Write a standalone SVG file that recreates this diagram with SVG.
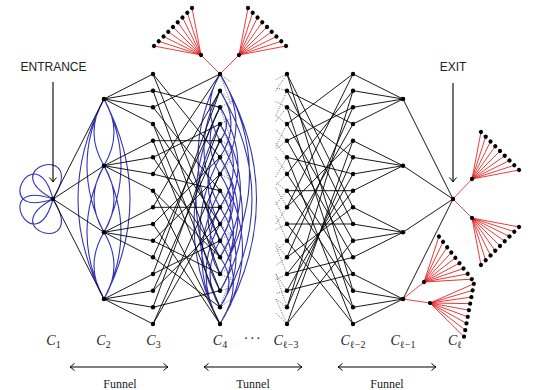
<svg xmlns="http://www.w3.org/2000/svg" xmlns:xlink="http://www.w3.org/1999/xlink" width="540" height="390" viewBox="0 0 540 390">
<defs>
<marker id="barb" viewBox="-6 -6 12 12" refX="0" refY="0" markerWidth="12" markerHeight="12" markerUnits="userSpaceOnUse" orient="auto-start-reverse">
<path d="M-4.5,-3.6 Q-1.5,-0.8 0,0 Q-1.5,0.8 -4.5,3.6" fill="none" stroke="#000" stroke-width="1"/>
</marker>
<path id="petal" d="M0,0 C46.7,-50 46.7,50 0,0"/>
<path id="fan" d="M0,0L39.6,-26.9M0,0L39.6,-20.2M0,0L39.6,-13.4M0,0L39.6,-6.7M0,0L39.6,0M0,0L39.6,6.7M0,0L39.6,13.4M0,0L39.6,20.2M0,0L39.6,26.9"/>
<g id="leaves">
<circle cx="0" cy="0" r="2.1"/><circle cx="39.6" cy="-26.9" r="2.1"/><circle cx="39.6" cy="-20.2" r="2.1"/><circle cx="39.6" cy="-13.4" r="2.1"/><circle cx="39.6" cy="-6.7" r="2.1"/><circle cx="39.6" cy="0" r="2.1"/><circle cx="39.6" cy="6.7" r="2.1"/><circle cx="39.6" cy="13.4" r="2.1"/><circle cx="39.6" cy="20.2" r="2.1"/><circle cx="39.6" cy="26.9" r="2.1"/>
</g>
</defs>
<style>
.e{stroke:#000;stroke-width:0.9;fill:none}
.b{stroke:#3434b4;stroke-width:1.1;fill:none}
.d{stroke:#444;stroke-width:0.8;stroke-dasharray:1 1.4;fill:none}
.r{stroke:#e31b1b;stroke-width:0.8;fill:none}
.n circle,.n use{fill:#000}
.lab{font-family:"Liberation Serif","DejaVu Serif",serif;font-size:14px;font-style:italic;text-anchor:middle;fill:#222}
.sub{font-size:10px;font-style:normal}
.t{font-family:"Liberation Serif","DejaVu Serif",serif;font-size:12px;text-anchor:middle;fill:#222}
.s{font-family:"Liberation Sans",sans-serif;font-size:12px;text-anchor:middle;fill:#222}
.ar{stroke:#000;stroke-width:1.1;fill:none}
</style>
<rect width="540" height="390" fill="#fff"/>

<g id="connectors">
<g class="b">
<use xlink:href="#petal" transform="translate(53,199) rotate(-105)"/>
<use xlink:href="#petal" transform="translate(53,199) rotate(-152)"/>
<use xlink:href="#petal" transform="translate(53,199) rotate(152)"/>
<use xlink:href="#petal" transform="translate(53,199) rotate(105)"/>
</g>
<path class="b" d="M104,99Q124,132.3 104,165.7M104,99Q84,132.3 104,165.7M104,165.7Q124,199 104,232.3M104,165.7Q84,199 104,232.3M104,232.3Q124,265.7 104,299M104,232.3Q84,265.7 104,299M104,99Q138,165.7 104,232.3M104,99Q70,165.7 104,232.3M104,165.7Q138,232.3 104,299M104,165.7Q70,232.3 104,299M104,99Q156,199 104,299M104,99Q52,199 104,299"/>
<path class="b" d="M220,74Q293,199 220,324M220,74Q279,174 220,274M220,90.7Q284,199 220,307.3M220,107.3Q256,165.7 220,224M220,124Q261,190.7 220,257.3M220,140.7Q265,215.7 220,290.7M220,157.3Q247,199 220,240.7M220,174Q265,249 220,324M220,190.7Q247,232.3 220,274M220,207.3Q252,257.3 220,307.3M220,74Q252,124 220,174M220,90.7Q242,124 220,157.3M220,124Q247,165.7 220,207.3M220,224Q242,257.3 220,290.7M220,240.7Q247,282.3 220,324M220,257.3Q238,282.3 220,307.3M220,107.3Q233,124 220,140.7M220,174Q242,207.3 220,240.7M220,157.3Q256,215.7 220,274"/>
<path class="b" d="M220,74Q176,157.3 220,240.7M220,90.7Q188,149 220,207.3M220,107.3Q172,199 220,290.7M220,124Q168,224 220,324M220,140.7Q196,182.3 220,224M220,157.3Q180,232.3 220,307.3M220,174Q196,215.7 220,257.3M220,190.7Q184,257.3 220,324M220,207.3Q200,240.7 220,274M220,74Q200,107.3 220,140.7M220,224Q192,274 220,324M220,107.3Q200,140.7 220,174M220,240.7Q200,274 220,307.3"/>
<path class="e" d="M53,199L104,99M53,199L104,165.7M53,199L104,232.3M53,199L104,299"/>
<path class="e" d="M104,99L153,74M104,99L153,90.7M104,99L153,107.3M104,99L153,124M104,165.7L153,140.7M104,165.7L153,157.3M104,165.7L153,174M104,165.7L153,190.7M104,232.3L153,207.3M104,232.3L153,224M104,232.3L153,240.7M104,232.3L153,257.3M104,299L153,274M104,299L153,290.7M104,299L153,307.3M104,299L153,324"/>
<path class="e" d="M153,74L220,157.3M153,74L220,240.7M153,90.7L220,274M153,90.7L220,107.3M153,107.3L220,74M153,107.3L220,190.7M153,124L220,224M153,124L220,290.7M153,140.7L220,307.3M153,140.7L220,140.7M153,157.3L220,124M153,157.3L220,257.3M153,174L220,190.7M153,174L220,74M153,190.7L220,257.3M153,190.7L220,324M153,207.3L220,90.7M153,207.3L220,207.3M153,224L220,324M153,224L220,157.3M153,240.7L220,174M153,240.7L220,274M153,257.3L220,107.3M153,257.3L220,307.3M153,274L220,240.7M153,274L220,90.7M153,290.7L220,140.7M153,290.7L220,224M153,307.3L220,290.7M153,307.3L220,124M153,324L220,207.3M153,324L220,174"/>
<path class="d" d="M220,74L231.4,82.5M220,74L231.4,105.2M220,90.7L231.4,113.4M220,90.7L231.4,102M220,107.3L231.4,101.6M220,107.3L231.4,141.3M220,124L231.4,149.5M220,124L231.4,118.3M220,140.7L231.4,146.4M220,140.7L231.4,157.7M220,157.3L231.4,185.6M220,157.3L231.4,148.8M220,174L231.4,159.8M220,174L231.4,179.7M220,190.7L231.4,199.2M220,190.7L231.4,207.7M220,207.3L231.4,196M220,207.3L231.4,184.6M220,224L231.4,235.3M220,224L231.4,215.5M220,240.7L231.4,232.2M220,240.7L231.4,254.9M220,257.3L231.4,231.8M220,257.3L231.4,237.5M220,274L231.4,279.7M220,274L231.4,265.5M220,290.7L231.4,268M220,290.7L231.4,287.9M220,307.3L231.4,298.8M220,307.3L231.4,276.1M220,324L231.4,304.2M220,324L231.4,301.3"/>
<path class="d" d="M287,74L275.6,91M287,74L275.6,79.7M287,90.7L275.6,87.9M287,90.7L275.6,116.2M287,107.3L275.6,121.5M287,107.3L275.6,101.6M287,124L275.6,146.7M287,124L275.6,115.5M287,140.7L275.6,129.4M287,140.7L275.6,149.2M287,157.3L275.6,177.1M287,157.3L275.6,143.1M287,174L275.6,185.3M287,174L275.6,157M287,190.7L275.6,182.2M287,190.7L275.6,204.9M287,207.3L275.6,224.3M287,207.3L275.6,187.5M287,224L275.6,201.3M287,224L275.6,229.7M287,240.7L275.6,252M287,240.7L275.6,215.2M287,257.3L275.6,243.1M287,257.3L275.6,265.8M287,274L275.6,245.7M287,274L275.6,279.7M287,290.7L275.6,273.7M287,290.7L275.6,293.5M287,307.3L275.6,298.8M287,307.3L275.6,273.3M287,324L275.6,312.7M287,324L275.6,298.5"/>
<path class="e" d="M287,74L353,207.3M287,74L353,290.7M287,90.7L353,124M287,90.7L353,224M287,107.3L353,307.3M287,107.3L353,157.3M287,124L353,74M287,124L353,240.7M287,140.7L353,257.3M287,140.7L353,107.3M287,157.3L353,174M287,157.3L353,324M287,174L353,90.7M287,174L353,274M287,190.7L353,290.7M287,190.7L353,190.7M287,207.3L353,140.7M287,207.3L353,74M287,224L353,224M287,224L353,307.3M287,240.7L353,324M287,240.7L353,124M287,257.3L353,107.3M287,257.3L353,207.3M287,274L353,190.7M287,274L353,257.3M287,290.7L353,274M287,290.7L353,174M287,307.3L353,157.3M287,307.3L353,90.7M287,324L353,240.7M287,324L353,140.7"/>
<path class="e" d="M403,99L353,74M403,99L353,90.7M403,99L353,107.3M403,99L353,124M403,165.7L353,140.7M403,165.7L353,157.3M403,165.7L353,174M403,165.7L353,190.7M403,232.3L353,207.3M403,232.3L353,224M403,232.3L353,240.7M403,232.3L353,257.3M403,299L353,274M403,299L353,290.7M403,299L353,307.3M403,299L353,324"/>
<path class="e" d="M403,99L453,199M403,165.7L453,199M403,232.3L453,199M403,299L453,199"/>
<path class="r" d="M220,74L201,55M220,74L239,55M453,199L472,179M453,199L472,218M403,299L424,282M403,299L430,303"/>
<use xlink:href="#fan" class="r" transform="translate(201,55) rotate(225)"/>
<use xlink:href="#fan" class="r" transform="translate(239,55) rotate(-45)"/>
<use xlink:href="#fan" class="r" transform="translate(472,179) rotate(-45)"/>
<use xlink:href="#fan" class="r" transform="translate(472,218) rotate(45)"/>
<use xlink:href="#fan" class="r" transform="translate(424,282) rotate(-37.6)"/>
<use xlink:href="#fan" class="r" transform="translate(430,303) rotate(10.5)"/>
<path class="ar" d="M53,82L53,182" marker-end="url(#barb)"/>
<path class="ar" d="M453,83L453,182" marker-end="url(#barb)"/>
<path class="ar" d="M70,367L168,367" marker-start="url(#barb)" marker-end="url(#barb)"/>
<path class="ar" d="M204,367L302,367" marker-start="url(#barb)" marker-end="url(#barb)"/>
<path class="ar" d="M338,367L436,367" marker-start="url(#barb)" marker-end="url(#barb)"/>
</g>

<g id="col-C1" class="n"><circle id="c1" cx="53" cy="199" r="2.2"/></g>
<g id="col-C2" class="n">
<circle id="c2-0" cx="104" cy="99" r="2.3"/><circle id="c2-1" cx="104" cy="165.7" r="2.3"/><circle id="c2-2" cx="104" cy="232.3" r="2.3"/><circle id="c2-3" cx="104" cy="299" r="2.3"/>
</g>
<g id="col-C3" class="n">
<circle id="c3-0" cx="153" cy="74" r="2.2"/><circle id="c3-1" cx="153" cy="90.7" r="2.2"/><circle id="c3-2" cx="153" cy="107.3" r="2.2"/><circle id="c3-3" cx="153" cy="124" r="2.2"/><circle id="c3-4" cx="153" cy="140.7" r="2.2"/><circle id="c3-5" cx="153" cy="157.3" r="2.2"/><circle id="c3-6" cx="153" cy="174" r="2.2"/><circle id="c3-7" cx="153" cy="190.7" r="2.2"/><circle id="c3-8" cx="153" cy="207.3" r="2.2"/><circle id="c3-9" cx="153" cy="224" r="2.2"/><circle id="c3-10" cx="153" cy="240.7" r="2.2"/><circle id="c3-11" cx="153" cy="257.3" r="2.2"/><circle id="c3-12" cx="153" cy="274" r="2.2"/><circle id="c3-13" cx="153" cy="290.7" r="2.2"/><circle id="c3-14" cx="153" cy="307.3" r="2.2"/><circle id="c3-15" cx="153" cy="324" r="2.2"/>
</g>
<g id="col-C4" class="n">
<circle id="c4-0" cx="220" cy="74" r="2.2"/><circle id="c4-1" cx="220" cy="90.7" r="2.2"/><circle id="c4-2" cx="220" cy="107.3" r="2.2"/><circle id="c4-3" cx="220" cy="124" r="2.2"/><circle id="c4-4" cx="220" cy="140.7" r="2.2"/><circle id="c4-5" cx="220" cy="157.3" r="2.2"/><circle id="c4-6" cx="220" cy="174" r="2.2"/><circle id="c4-7" cx="220" cy="190.7" r="2.2"/><circle id="c4-8" cx="220" cy="207.3" r="2.2"/><circle id="c4-9" cx="220" cy="224" r="2.2"/><circle id="c4-10" cx="220" cy="240.7" r="2.2"/><circle id="c4-11" cx="220" cy="257.3" r="2.2"/><circle id="c4-12" cx="220" cy="274" r="2.2"/><circle id="c4-13" cx="220" cy="290.7" r="2.2"/><circle id="c4-14" cx="220" cy="307.3" r="2.2"/><circle id="c4-15" cx="220" cy="324" r="2.2"/>
</g>
<g id="col-Cl3" class="n">
<circle id="cl3-0" cx="287" cy="74" r="2.2"/><circle id="cl3-1" cx="287" cy="90.7" r="2.2"/><circle id="cl3-2" cx="287" cy="107.3" r="2.2"/><circle id="cl3-3" cx="287" cy="124" r="2.2"/><circle id="cl3-4" cx="287" cy="140.7" r="2.2"/><circle id="cl3-5" cx="287" cy="157.3" r="2.2"/><circle id="cl3-6" cx="287" cy="174" r="2.2"/><circle id="cl3-7" cx="287" cy="190.7" r="2.2"/><circle id="cl3-8" cx="287" cy="207.3" r="2.2"/><circle id="cl3-9" cx="287" cy="224" r="2.2"/><circle id="cl3-10" cx="287" cy="240.7" r="2.2"/><circle id="cl3-11" cx="287" cy="257.3" r="2.2"/><circle id="cl3-12" cx="287" cy="274" r="2.2"/><circle id="cl3-13" cx="287" cy="290.7" r="2.2"/><circle id="cl3-14" cx="287" cy="307.3" r="2.2"/><circle id="cl3-15" cx="287" cy="324" r="2.2"/>
</g>
<g id="col-Cl2" class="n">
<circle id="cl2-0" cx="353" cy="74" r="2.2"/><circle id="cl2-1" cx="353" cy="90.7" r="2.2"/><circle id="cl2-2" cx="353" cy="107.3" r="2.2"/><circle id="cl2-3" cx="353" cy="124" r="2.2"/><circle id="cl2-4" cx="353" cy="140.7" r="2.2"/><circle id="cl2-5" cx="353" cy="157.3" r="2.2"/><circle id="cl2-6" cx="353" cy="174" r="2.2"/><circle id="cl2-7" cx="353" cy="190.7" r="2.2"/><circle id="cl2-8" cx="353" cy="207.3" r="2.2"/><circle id="cl2-9" cx="353" cy="224" r="2.2"/><circle id="cl2-10" cx="353" cy="240.7" r="2.2"/><circle id="cl2-11" cx="353" cy="257.3" r="2.2"/><circle id="cl2-12" cx="353" cy="274" r="2.2"/><circle id="cl2-13" cx="353" cy="290.7" r="2.2"/><circle id="cl2-14" cx="353" cy="307.3" r="2.2"/><circle id="cl2-15" cx="353" cy="324" r="2.2"/>
</g>
<g id="col-Cl1" class="n">
<circle id="cl1-0" cx="403" cy="99" r="2.3"/><circle id="cl1-1" cx="403" cy="165.7" r="2.3"/><circle id="cl1-2" cx="403" cy="232.3" r="2.3"/><circle id="cl1-3" cx="403" cy="299" r="2.3"/>
</g>
<g id="col-Cl" class="n"><circle id="exit" cx="453" cy="199" r="2.2"/></g>

<g id="tree-top-left" class="n"><use xlink:href="#leaves" transform="translate(201,55) rotate(225)"/></g>
<g id="tree-top-right" class="n"><use xlink:href="#leaves" transform="translate(239,55) rotate(-45)"/></g>
<g id="tree-exit-upper" class="n"><use xlink:href="#leaves" transform="translate(472,179) rotate(-45)"/></g>
<g id="tree-exit-lower" class="n"><use xlink:href="#leaves" transform="translate(472,218) rotate(45)"/></g>
<g id="tree-cl1-a" class="n"><use xlink:href="#leaves" transform="translate(424,282) rotate(-37.6)"/></g>
<g id="tree-cl1-b" class="n"><use xlink:href="#leaves" transform="translate(430,303) rotate(10.5)"/></g>

<g id="labels">
<text class="s" x="53.5" y="71">ENTRANCE</text>
<text class="s" x="453" y="71">EXIT</text>
<text class="lab" x="53.5" y="345">C<tspan class="sub" dy="3">1</tspan></text>
<text class="lab" x="103.5" y="345">C<tspan class="sub" dy="3">2</tspan></text>
<text class="lab" x="153.5" y="345">C<tspan class="sub" dy="3">3</tspan></text>
<text class="lab" x="220" y="345">C<tspan class="sub" dy="3">4</tspan></text>
<text class="lab" x="253" y="343" style="font-style:normal;letter-spacing:1.5px">···</text>
<text class="lab" x="286" y="345">C<tspan class="sub" dy="3">ℓ−3</tspan></text>
<text class="lab" x="353" y="345">C<tspan class="sub" dy="3">ℓ−2</tspan></text>
<text class="lab" x="403" y="345">C<tspan class="sub" dy="3">ℓ−1</tspan></text>
<text class="lab" x="455" y="345">C<tspan class="sub" dy="3">ℓ</tspan></text>
<text class="t" x="120" y="388">Funnel</text>
<text class="t" x="253" y="388">Tunnel</text>
<text class="t" x="387" y="388">Funnel</text>
</g>
</svg>
